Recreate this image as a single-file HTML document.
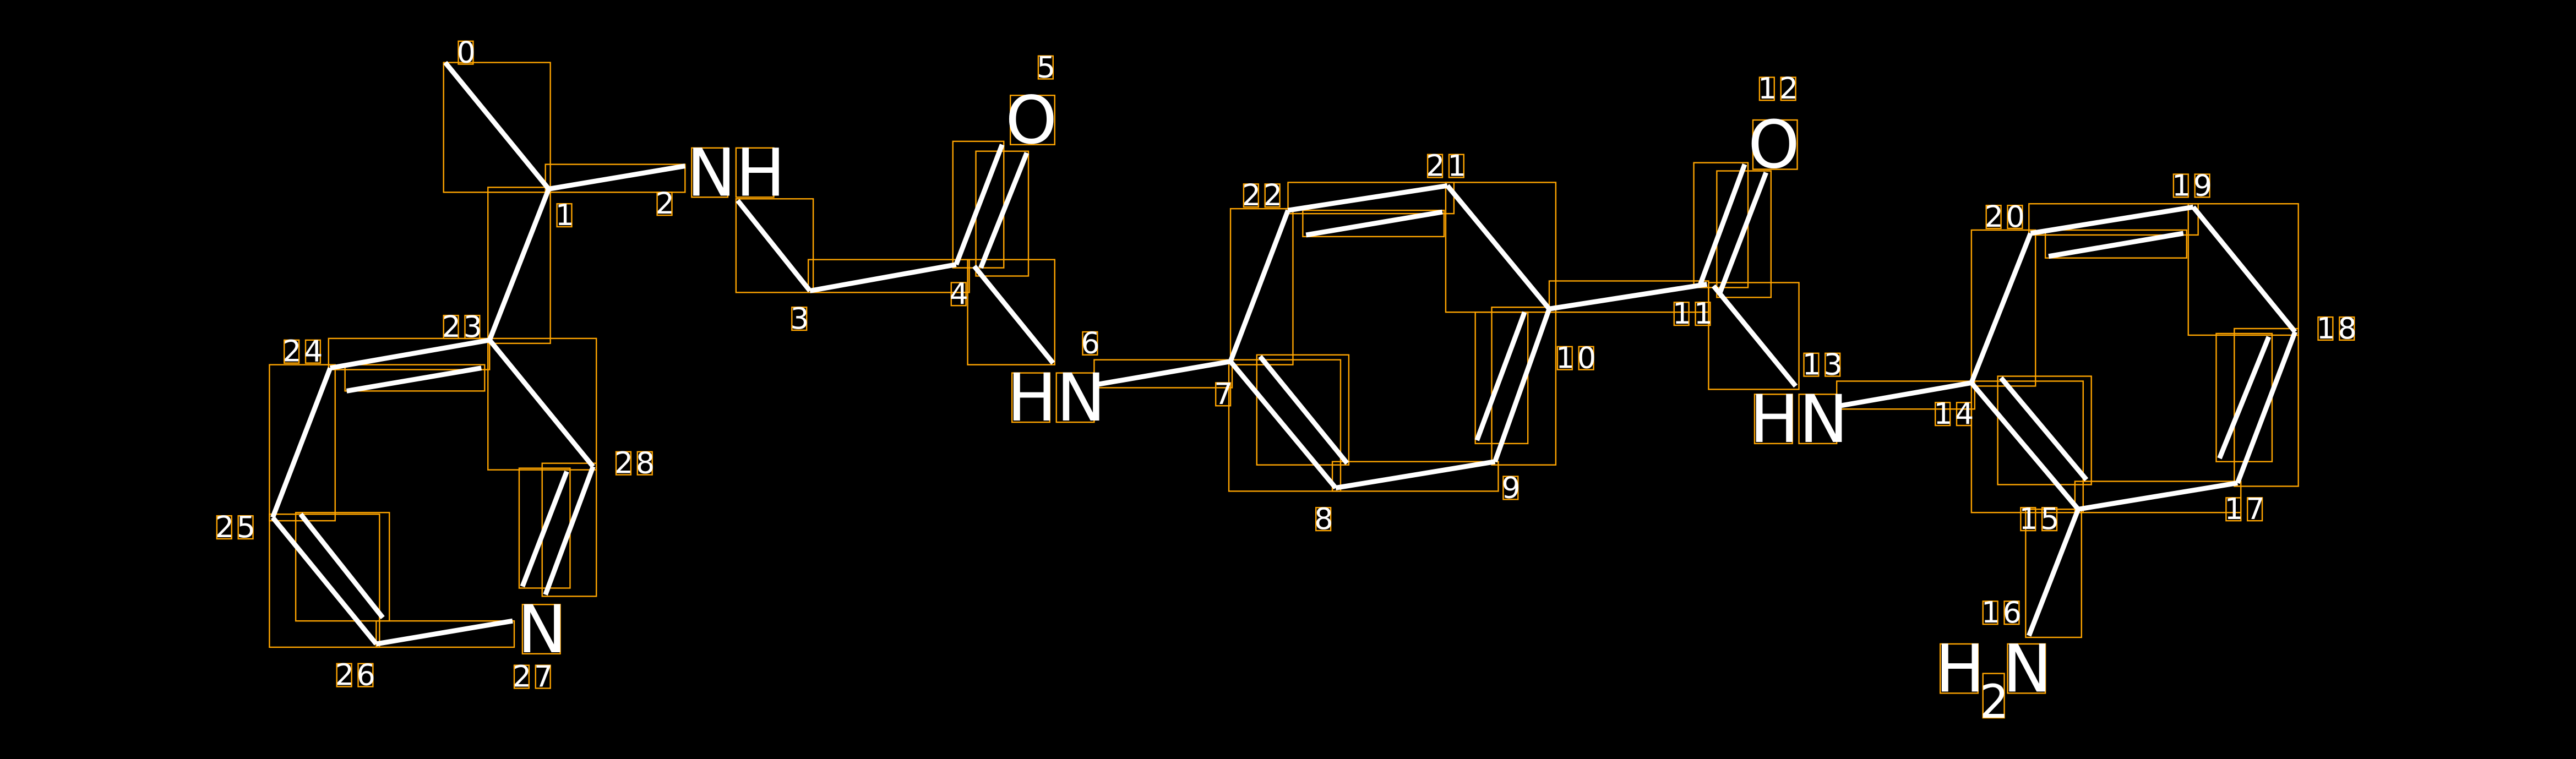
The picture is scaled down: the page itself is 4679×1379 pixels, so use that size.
<!DOCTYPE html>
<html><head><style>
html,body{margin:0;padding:0;background:#000;}
svg{display:block;}
text{font-family:"DejaVu Sans","Liberation Sans",sans-serif;fill:#fff;}
.d{font-size:18px;}
.a{font-size:40px;}
</style></head><body>
<svg width="4679" height="1379" viewBox="0 0 1568 462" xmlns="http://www.w3.org/2000/svg">
<rect width="1568" height="462" fill="#000"/>
<g fill="none" stroke="#FFA500" stroke-width="0.8">
<rect x="270" y="38" width="65" height="79"/>
<rect x="332" y="100" width="85" height="17"/>
<rect x="297" y="114" width="38" height="95"/>
<rect x="448" y="121" width="47" height="57"/>
<rect x="492" y="158" width="98" height="20"/>
<rect x="580" y="86" width="31" height="77"/>
<rect x="594" y="92" width="32" height="76"/>
<rect x="589" y="158" width="53" height="64"/>
<rect x="666" y="219" width="84" height="17"/>
<rect x="749" y="127" width="38" height="95"/>
<rect x="784" y="111" width="101" height="19"/>
<rect x="793" y="128" width="86" height="16"/>
<rect x="880" y="111" width="67" height="79"/>
<rect x="908" y="187" width="39" height="96"/>
<rect x="898" y="190" width="32" height="80"/>
<rect x="811" y="281" width="101" height="18"/>
<rect x="748" y="219" width="68" height="80"/>
<rect x="765" y="216" width="56" height="67"/>
<rect x="943" y="171" width="97" height="19"/>
<rect x="1031" y="99" width="33" height="76"/>
<rect x="1045" y="104" width="33" height="77"/>
<rect x="1040" y="172" width="55" height="65"/>
<rect x="1118" y="232" width="84" height="17"/>
<rect x="1200" y="140" width="39" height="95"/>
<rect x="1235" y="124" width="103" height="19"/>
<rect x="1245" y="140" width="86" height="17"/>
<rect x="1332" y="124" width="67" height="80"/>
<rect x="1360" y="200" width="39" height="96"/>
<rect x="1349" y="203" width="34" height="78"/>
<rect x="1263" y="293" width="101" height="19"/>
<rect x="1200" y="232" width="68" height="80"/>
<rect x="1216" y="229" width="57" height="66"/>
<rect x="1233" y="310" width="34" height="78"/>
<rect x="200" y="206" width="98" height="19"/>
<rect x="210" y="222" width="85" height="16"/>
<rect x="297" y="206" width="66" height="80"/>
<rect x="330" y="282" width="33" height="81"/>
<rect x="316" y="285" width="31" height="73"/>
<rect x="229" y="378" width="84" height="16"/>
<rect x="164" y="313" width="67" height="81"/>
<rect x="180" y="312" width="57" height="66"/>
<rect x="164" y="222" width="40" height="95"/>
</g>
<g stroke="#fff" stroke-width="3" stroke-linecap="butt">
<line x1="271" y1="38" x2="334" y2="115"/>
<line x1="334" y1="115" x2="417" y2="101"/>
<line x1="334" y1="115" x2="298" y2="207"/>
<line x1="449" y1="122" x2="493" y2="177"/>
<line x1="493" y1="177" x2="582" y2="161"/>
<line x1="582" y1="161" x2="610" y2="88"/>
<line x1="597" y1="163" x2="625" y2="93"/>
<line x1="593" y1="162" x2="641" y2="221"/>
<line x1="668" y1="234" x2="749" y2="220"/>
<line x1="749" y1="220" x2="784" y2="128"/>
<line x1="784" y1="128" x2="881" y2="113"/>
<line x1="795" y1="143" x2="878" y2="129"/>
<line x1="881" y1="113" x2="943" y2="188"/>
<line x1="943" y1="188" x2="910" y2="281"/>
<line x1="899" y1="268" x2="928" y2="190"/>
<line x1="910" y1="281" x2="813" y2="297"/>
<line x1="813" y1="297" x2="749" y2="220"/>
<line x1="767" y1="217" x2="820" y2="282"/>
<line x1="943" y1="188" x2="1039" y2="173"/>
<line x1="1035" y1="173" x2="1062" y2="100"/>
<line x1="1047" y1="178" x2="1075" y2="105"/>
<line x1="1043" y1="174" x2="1093" y2="235"/>
<line x1="1120" y1="247" x2="1200" y2="233"/>
<line x1="1200" y1="233" x2="1236" y2="142"/>
<line x1="1236" y1="142" x2="1335" y2="126"/>
<line x1="1247" y1="156" x2="1329" y2="142"/>
<line x1="1335" y1="126" x2="1397" y2="202"/>
<line x1="1397" y1="202" x2="1362" y2="294"/>
<line x1="1351" y1="279" x2="1381" y2="205"/>
<line x1="1362" y1="294" x2="1265" y2="310"/>
<line x1="1265" y1="310" x2="1200" y2="233"/>
<line x1="1218" y1="230" x2="1270" y2="292"/>
<line x1="1265" y1="310" x2="1235" y2="387"/>
<line x1="298" y1="207" x2="201" y2="224"/>
<line x1="211" y1="238" x2="293" y2="224"/>
<line x1="298" y1="207" x2="361" y2="284"/>
<line x1="361" y1="284" x2="332" y2="362"/>
<line x1="318" y1="357" x2="345" y2="287"/>
<line x1="312" y1="378" x2="229" y2="392"/>
<line x1="229" y1="392" x2="166" y2="315"/>
<line x1="183" y1="313" x2="233" y2="376"/>
<line x1="166" y1="315" x2="201" y2="224"/>
</g>
<g fill="none" stroke="#FFA500" stroke-width="0.8">
<rect x="421" y="90" width="22" height="30"/><rect x="448" y="90" width="23" height="30"/>
<rect x="615" y="58" width="27" height="30"/>
<rect x="616" y="227" width="23" height="30"/><rect x="643" y="227" width="23" height="30"/>
<rect x="1067" y="73" width="27" height="30"/>
<rect x="1068" y="240" width="23" height="30"/><rect x="1095" y="240" width="23" height="30"/>
<rect x="318" y="368" width="23" height="30"/>
<rect x="1181" y="392" width="23" height="30"/><rect x="1207" y="410" width="13" height="27"/><rect x="1222" y="392" width="23" height="30"/>
</g>
<text class="a" x="418" y="119">NH</text>
<text class="a" x="612" y="87">O</text>
<text class="a" x="613" y="256">HN</text>
<text class="a" x="1064" y="102">O</text>
<text class="a" x="1065" y="269">HN</text>
<text class="a" x="315" y="397">N</text>
<text class="a" x="1178" y="421">H</text>
<text class="a" x="1219" y="421">N</text>
<text style="font-size:28px" x="1205" y="437">2</text>
<g fill="none" stroke="#FFA500" stroke-width="0.8">
<rect x="279" y="25" width="9" height="14"/>
<rect x="339" y="124" width="9" height="14"/>
<rect x="400" y="117" width="9" height="14"/>
<rect x="482" y="187" width="9" height="14"/>
<rect x="579" y="172" width="9" height="14"/>
<rect x="632" y="34" width="9" height="14"/>
<rect x="659" y="202" width="9" height="14"/>
<rect x="740" y="233" width="9" height="14"/>
<rect x="801" y="309" width="9" height="14"/>
<rect x="915" y="290" width="9" height="14"/>
<rect x="948" y="211" width="9" height="14"/><rect x="961" y="211" width="9" height="14"/>
<rect x="1019" y="184" width="9" height="14"/><rect x="1032" y="184" width="9" height="14"/>
<rect x="1071" y="47" width="9" height="14"/><rect x="1084" y="47" width="9" height="14"/>
<rect x="1098" y="215" width="9" height="14"/><rect x="1111" y="215" width="9" height="14"/>
<rect x="1178" y="245" width="9" height="14"/><rect x="1191" y="245" width="9" height="14"/>
<rect x="1230" y="309" width="9" height="14"/><rect x="1243" y="309" width="9" height="14"/>
<rect x="1207" y="366" width="9" height="14"/><rect x="1220" y="366" width="9" height="14"/>
<rect x="1355" y="303" width="9" height="14"/><rect x="1368" y="303" width="9" height="14"/>
<rect x="1411" y="193" width="9" height="14"/><rect x="1424" y="193" width="9" height="14"/>
<rect x="1323" y="106" width="9" height="14"/><rect x="1336" y="106" width="9" height="14"/>
<rect x="1209" y="125" width="9" height="14"/><rect x="1222" y="125" width="9" height="14"/>
<rect x="869" y="94" width="9" height="14"/><rect x="882" y="94" width="9" height="14"/>
<rect x="757" y="112" width="9" height="14"/><rect x="770" y="112" width="9" height="14"/>
<rect x="270" y="192" width="9" height="14"/><rect x="283" y="192" width="9" height="14"/>
<rect x="173" y="207" width="9" height="14"/><rect x="186" y="207" width="9" height="14"/>
<rect x="132" y="314" width="9" height="14"/><rect x="145" y="314" width="9" height="14"/>
<rect x="205" y="404" width="9" height="14"/><rect x="218" y="404" width="9" height="14"/>
<rect x="313" y="405" width="9" height="14"/><rect x="326" y="405" width="9" height="14"/>
<rect x="375" y="275" width="9" height="14"/><rect x="388" y="275" width="9" height="14"/>
</g>
<g style="letter-spacing:1.6px">
<text class="d" x="278" y="38">0</text>
<text class="d" x="338" y="137">1</text>
<text class="d" x="399" y="130">2</text>
<text class="d" x="481" y="200">3</text>
<text class="d" x="578" y="185">4</text>
<text class="d" x="631" y="47">5</text>
<text class="d" x="658" y="215">6</text>
<text class="d" x="739" y="246">7</text>
<text class="d" x="800" y="322">8</text>
<text class="d" x="914" y="303">9</text>
<text class="d" x="947" y="224">10</text>
<text class="d" x="1018" y="197">11</text>
<text class="d" x="1070" y="60">12</text>
<text class="d" x="1097" y="228">13</text>
<text class="d" x="1177" y="258">14</text>
<text class="d" x="1229" y="322">15</text>
<text class="d" x="1206" y="379">16</text>
<text class="d" x="1354" y="316">17</text>
<text class="d" x="1410" y="206">18</text>
<text class="d" x="1322" y="119">19</text>
<text class="d" x="1208" y="138">20</text>
<text class="d" x="868" y="107">21</text>
<text class="d" x="756" y="125">22</text>
<text class="d" x="269" y="205">23</text>
<text class="d" x="172" y="220">24</text>
<text class="d" x="131" y="327">25</text>
<text class="d" x="204" y="417">26</text>
<text class="d" x="312" y="418">27</text>
<text class="d" x="374" y="288">28</text>
</g>
</svg>
</body></html>
